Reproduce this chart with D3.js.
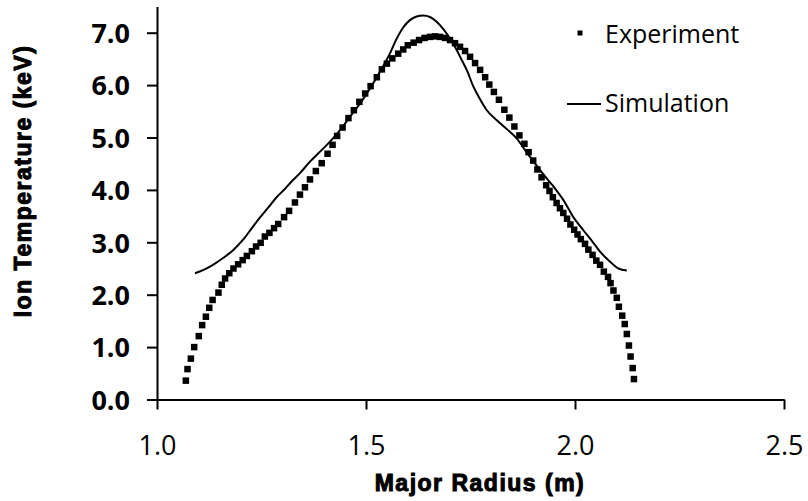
<!DOCTYPE html>
<html>
<head>
<meta charset="utf-8">
<script src="https://cdn.jsdelivr.net/npm/d3@7"></script>
<style>
  html, body { margin: 0; padding: 0; background: #fff; }
  svg { display: block; }
</style>
</head>
<body>
<svg id="chart" width="808" height="501"></svg>
<script>
// ---- data ----
const expR = [1.069,1.073,1.081,1.089,1.100,1.108,1.117,1.125,1.133,1.147,1.155,1.163,1.173,1.183,1.194,1.205,1.215,1.227,1.237,1.248,1.258,1.269,1.280,1.290,1.304,1.316,1.330,1.342,1.354,1.366,1.380,1.394,1.408,1.420,1.431,1.444,1.458,1.471,1.484,1.498,1.511,1.526,1.538,1.550,1.563,1.577,1.589,1.600,1.614,1.627,1.640,1.653,1.665,1.677,1.689,1.701,1.713,1.725,1.737,1.749,1.761,1.773,1.785,1.795,1.806,1.818,1.831,1.843,1.855,1.867,1.879,1.889,1.900,1.910,1.920,1.931,1.939,1.947,1.956,1.964,1.972,1.981,1.989,1.998,2.006,2.014,2.024,2.032,2.042,2.051,2.060,2.069,2.079,2.085,2.092,2.100,2.105,2.113,2.119,2.124,2.129,2.133,2.138,2.141];
const expT = [0.36,0.58,0.78,1.00,1.21,1.42,1.58,1.75,1.90,2.04,2.19,2.31,2.41,2.50,2.58,2.66,2.74,2.83,2.92,2.99,3.11,3.18,3.27,3.35,3.48,3.60,3.76,3.91,4.05,4.20,4.36,4.51,4.69,4.86,5.03,5.19,5.37,5.52,5.68,5.84,5.98,6.15,6.30,6.41,6.51,6.60,6.68,6.76,6.81,6.86,6.90,6.92,6.93,6.92,6.90,6.86,6.80,6.73,6.65,6.54,6.42,6.29,6.15,6.01,5.87,5.72,5.53,5.38,5.21,5.04,4.88,4.72,4.56,4.39,4.24,4.09,3.98,3.86,3.75,3.65,3.56,3.45,3.34,3.24,3.15,3.06,2.97,2.86,2.76,2.65,2.57,2.44,2.34,2.22,2.08,1.94,1.77,1.60,1.44,1.25,1.03,0.82,0.60,0.39];

const simR = [1.091,1.110,1.134,1.158,1.182,1.206,1.227,1.246,1.266,1.285,1.306,1.323,1.342,1.366,1.390,1.414,1.438,1.462,1.486,1.510,1.533,1.557,1.573,1.589,1.605,1.621,1.637,1.653,1.669,1.685,1.701,1.717,1.729,1.741,1.757,1.773,1.789,1.813,1.837,1.861,1.884,1.900,1.924,1.948,1.972,1.996,2.020,2.044,2.060,2.084,2.104,2.124];
const simT = [2.41,2.47,2.57,2.70,2.85,3.05,3.27,3.47,3.66,3.85,4.02,4.17,4.32,4.54,4.73,4.92,5.14,5.40,5.65,5.94,6.25,6.60,6.88,7.10,7.24,7.31,7.33,7.30,7.21,7.07,6.89,6.67,6.48,6.29,5.97,5.73,5.52,5.33,5.16,4.98,4.72,4.55,4.30,4.07,3.81,3.48,3.23,2.99,2.82,2.63,2.50,2.46];

const xTicks = [1.0, 1.5, 2.0, 2.5];
const yTicks = [0, 1, 2, 3, 4, 5, 6, 7];
const xTitle = "Major Radius (m)";
const yTitle = "Ion Temperature (keV)";
const legendNames = ["Experiment", "Simulation"];

// ---- drawing ----
const svg = d3.select("#chart");
const x = d3.scaleLinear().domain([1.0, 2.5]).range([157, 784]);
const y = d3.scaleLinear().domain([0, 7.5]).range([399.5, 6.5]);

const fontTick = "'Open Sans', 'DejaVu Sans', sans-serif";
const fontTitle = "'Liberation Sans', Arial, sans-serif";

// x axis
const gx = svg.append("g").attr("transform", `translate(0,${y(0)})`)
  .call(d3.axisBottom(x).tickValues(xTicks).tickFormat(d3.format(".1f")).tickSize(10).tickSizeOuter(0));
gx.select(".domain").attr("stroke", "#000").attr("stroke-width", 2);
gx.selectAll(".tick line").attr("stroke", "#000").attr("stroke-width", 2);
gx.selectAll(".tick text")
  .attr("y", 0).attr("dy", null)
  .attr("transform", "translate(0,55)")
  .style("font-family", fontTick).style("font-size", "27px").attr("fill", "#000");

// y axis
const gy = svg.append("g").attr("transform", `translate(${x(1.0)},0)`)
  .call(d3.axisLeft(y).tickValues(yTicks).tickFormat(d3.format(".1f")).tickSize(10).tickSizeOuter(0));
gy.select(".domain").attr("stroke", "#000").attr("stroke-width", 2);
gy.selectAll(".tick line").attr("stroke", "#000").attr("stroke-width", 2);
gy.selectAll(".tick text")
  .attr("x", -27).attr("dy", "0.36em")
  .style("font-family", fontTick).style("font-size", "27px").style("font-weight", "700").attr("fill", "#000");

// simulation line
const simData = simR.map((r, i) => [r, simT[i]]);
svg.append("path")
  .datum(simData)
  .attr("fill", "none").attr("stroke", "#000").attr("stroke-width", 2)
  .attr("d", d3.line().x(d => x(d[0])).y(d => y(d[1])).curve(d3.curveMonotoneX));

// experiment markers
const expData = expR.map((r, i) => [r, expT[i]]);
const ms = 6.5;
svg.append("g").selectAll("rect").data(expData).join("rect")
  .attr("x", d => x(d[0]) - ms / 2).attr("y", d => y(d[1]) - ms / 2)
  .attr("width", ms).attr("height", ms).attr("fill", "#000");

// legend
const lg = svg.append("g");
lg.append("rect").attr("x", 577.5).attr("y", 30.5).attr("width", 5).attr("height", 5).attr("fill", "#000");
lg.append("text").attr("x", 605).attr("y", 43).text(legendNames[0])
  .style("font-family", fontTick).style("font-size", "25px").attr("fill", "#000");
lg.append("line").attr("x1", 567).attr("x2", 601).attr("y1", 104).attr("y2", 104)
  .attr("stroke", "#000").attr("stroke-width", 2);
lg.append("text").attr("x", 605).attr("y", 112).text(legendNames[1])
  .style("font-family", fontTick).style("font-size", "25px").attr("fill", "#000");

// axis titles
svg.append("text").attr("x", 480).attr("y", 491).attr("text-anchor", "middle")
  .text(xTitle)
  .style("font-family", fontTitle).style("font-size", "23px").style("font-weight", "700")
  .style("letter-spacing", "1.5px")
  .attr("stroke", "#000").attr("stroke-width", 1).attr("fill", "#000");
svg.append("text").attr("transform", "translate(31,181) rotate(-90)").attr("text-anchor", "middle")
  .text(yTitle)
  .style("font-family", fontTitle).style("font-size", "23px").style("font-weight", "700")
  .style("letter-spacing", "1.5px")
  .attr("stroke", "#000").attr("stroke-width", 1).attr("fill", "#000");
</script>
</body>
</html>
